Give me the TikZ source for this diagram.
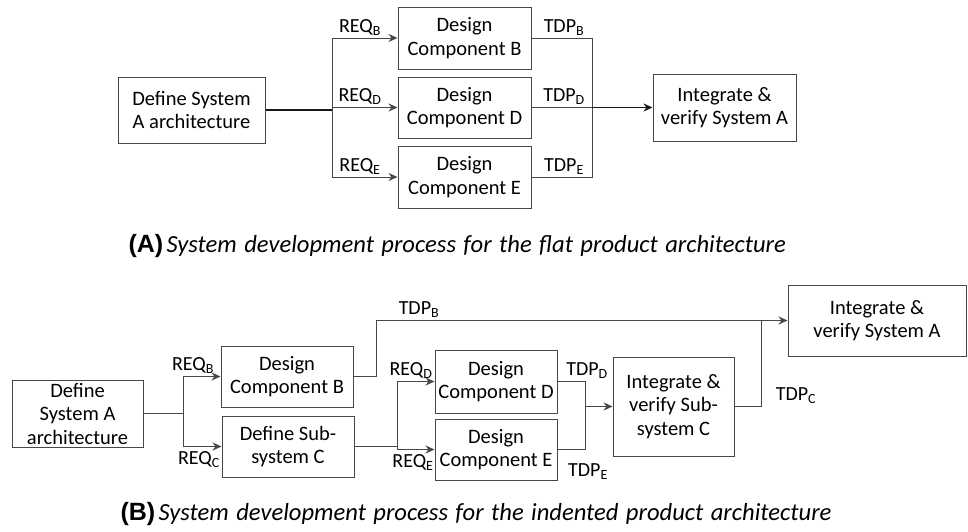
\documentclass[tikz,border=0pt]{standalone}
\usepackage{fontspec}
\setmainfont{Carlito}
\newfontfamily\capbold{Liberation Sans}
\usetikzlibrary{arrows.meta}
\begin{document}
\begin{tikzpicture}[x=1pt,y=-1pt,
  font=\fontsize{20.5}{23.5}\selectfont,
  line width=1pt,
  >={Stealth[length=9pt,width=8pt]},
  proc/.style={draw=black!72, line width=1pt, align=center, inner sep=0pt},
  flow/.style={draw=black!72},
  bold flow/.style={draw=black!90, line width=1.6pt},
  lbl/.style={inner sep=1pt, font=\fontsize{20}{22}\selectfont},
  capt/.style={anchor=west, inner sep=0pt}]
\useasboundingbox (0,0) rectangle (968,531);
\newcommand{\sbx}[1]{\textsubscript{\fontsize{14}{14}\selectfont #1}}
\newcommand{\captext}[2]{{\capbold\bfseries\fontsize{25}{27}\selectfont (#1)}\,{\itshape\fontsize{24.6}{27}\selectfont\spaceskip=0.3em #2}}

% ---------- (A) flat architecture ----------
\node[proc, minimum width=147pt, minimum height=66pt] (defA) at (191.5,110) {Define System\\A architecture};
\node[proc, minimum width=133pt, minimum height=62pt] (desB) at (464.5,38) {Design\\Component B};
\node[proc, minimum width=133pt, minimum height=61pt] (desD) at (464.5,107.5) {Design\\Component D};
\node[proc, minimum width=133pt, minimum height=62pt] (desE) at (464.5,177) {Design\\Component E};
\node[proc, minimum width=143pt, minimum height=67pt] (intA) at (724.5,107.5) {Integrate \&\\verify System A};

\coordinate (jA) at (332,110);
\coordinate (jT) at (592,107.5);
\draw[bold flow] (defA) -- (jA);
\draw[flow,->] (jA) |- (desB);
\draw[flow,->] (jA) |- (desD);
\draw[flow,->] (jA) |- (desE);
\draw[flow] (desB.east) -| (jT);
\draw[flow] (desE.east) -| (jT);
\draw[flow] (desD) -- (jT);
\draw[bold flow,->] (jT) -- (intA);

\node[lbl, anchor=south] (rqB) at (360,37) {REQ\sbx{B}};
\node[lbl, anchor=south] (rqD) at (360,106) {REQ\sbx{D}};
\node[lbl, anchor=south] (rqE) at (360,176) {REQ\sbx{E}};
\node[lbl, anchor=south] (tpB) at (564,37) {TDP\sbx{B}};
\node[lbl, anchor=south] (tpD) at (564,106) {TDP\sbx{D}};
\node[lbl, anchor=south] (tpE) at (564,176) {TDP\sbx{E}};

\node[capt] (capA) at (128,246) {\captext{A}{System development process for the flat product architecture}};

% ---------- (B) indented architecture ----------
\node[proc, minimum width=131pt, minimum height=67pt] (defB) at (77.5,413.5) {Define\\System A\\architecture};
\node[proc, minimum width=132pt, minimum height=61pt] (bB) at (287,376.5) {Design\\Component B};
\node[proc, minimum width=132pt, minimum height=61pt] (subC) at (288,446.5) {Define Sub-\\system C};
\node[proc, minimum width=122pt, minimum height=63pt] (dD) at (496,381.5) {Design\\Component D};
\node[proc, minimum width=122pt, minimum height=61pt] (dE) at (496,449.5) {Design\\Component E};
\node[proc, minimum width=121pt, minimum height=99pt] (intC) at (673.5,406.5) {Integrate \&\\verify Sub-\\system C};
\node[proc, minimum width=178pt, minimum height=71pt] (intA2) at (877,320.5) {Integrate \&\\verify System A};

\coordinate (jR) at (183,413.5);
\coordinate (tb) at (376,320.5);
\coordinate (jS) at (397,446.5);
\coordinate (jDE) at (585,406.5);
\coordinate (tc) at (761,320.5);
\draw[flow] (defB) -- (jR);
\draw[flow,->] (jR) |- (bB);
\draw[flow,->] (jR) |- (subC);
\draw[flow,->] (bB.east) -| (tb) -- (intA2);
\draw[flow] (subC) -- (jS);
\draw[flow,->] (jS) |- (dD);
\draw[flow,->] (jS) |- (dE);
\draw[flow] (dD.east) -| (jDE);
\draw[flow] (dE.east) -| (jDE);
\draw[flow,->] (jDE) -- (intC);
\draw[flow] (intC) -| (tc);

\node[lbl, anchor=south] (rqB2) at (193,375) {REQ\sbx{B}};
\node[lbl, anchor=north] (rqC2) at (199,450) {REQ\sbx{C}};
\node[lbl, anchor=south] (tpB2) at (419,319) {TDP\sbx{B}};
\node[lbl, anchor=south] (rqD2) at (411,380) {REQ\sbx{D}};
\node[lbl, anchor=north] (rqE2) at (413,453) {REQ\sbx{E}};
\node[lbl, anchor=south] (tpD2) at (587,380) {TDP\sbx{D}};
\node[lbl, anchor=north] (tpE2) at (588,462) {TDP\sbx{E}};
\node[lbl, anchor=south] (tpC2) at (796,405) {TDP\sbx{C}};

\node[capt] (capB) at (120,514) {\captext{B}{System development process for the indented product architecture}};
\end{tikzpicture}
\end{document}
